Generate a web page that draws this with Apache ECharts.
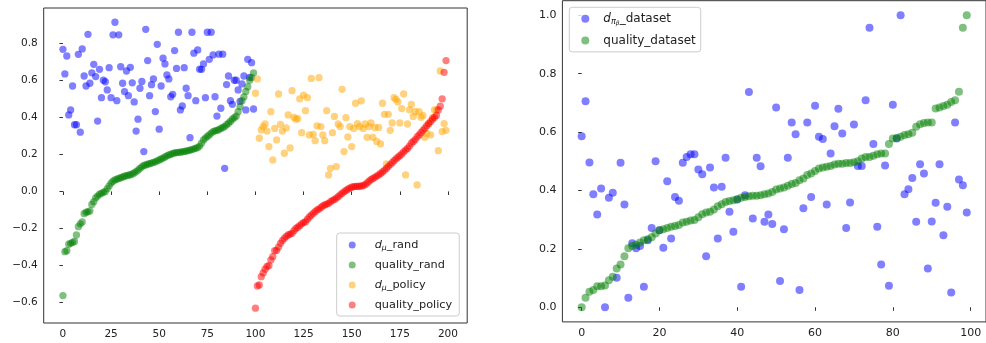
<!DOCTYPE html>
<html>
<head>
<meta charset="utf-8">
<title>quality scatter</title>
<script src="https://cdn.jsdelivr.net/npm/echarts@6/dist/echarts.min.js"></script>
<style>
  html, body { margin: 0; padding: 0; background: #fff; }
  #main { width: 986px; height: 343px; }
</style>
</head>
<body>
<div id="main"></div>
<script>
// tick labels
var leftXTicks = [0, 25, 50, 75, 100, 125, 150, 175, 200];
var leftYTicks = [-0.6, -0.4, -0.2, 0, 0.2, 0.4, 0.6, 0.8];
var rightXTicks = [0, 20, 40, 60, 80, 100];
var rightYTicks = [0, 0.2, 0.4, 0.6, 0.8, 1.0];

// left plot: x = 0..99 (rand), 100..199 (policy)
var dMuRand = [
  0.767, 0.634, 0.731, 0.413, 0.44, 0.569, 0.36, 0.36, 0.74, 0.32,
  0.769, 0.623, 0.569, 0.848, 0.584, 0.64, 0.686, 0.62, 0.38, 0.659,
  0.506, 0.60, 0.592, 0.548, 0.668, 0.506, 0.845, 0.913, 0.49, 0.845,
  0.673, 0.584, 0.539, 0.65, 0.517, 0.67, 0.586, 0.483, 0.326, 0.39,
  0.557, 0.594, 0.215, 0.875, 0.706, 0.517, 0.576, 0.607, 0.431, 0.794,
  0.336, 0.569, 0.719, 0.688, 0.629, 0.607, 0.511, 0.524, 0.76, 0.664,
  0.859, 0.44, 0.461, 0.668, 0.557, 0.517, 0.29, 0.859, 0.746, 0.49,
  0.764, 0.66, 0.659, 0.688, 0.506, 0.859, 0.713, 0.859, 0.737, 0.511,
  0.407, 0.741, 0.449, 0.741, 0.125, 0.577, 0.623, 0.49, 0.47, 0.60,
  0.60, 0.548, 0.486, 0.58, 0.623, 0.44, 0.713, 0.616, 0.695, 0.445
];
var qualityRand = [
  -0.562, -0.325, -0.32, -0.285, -0.28, -0.275, -0.27, -0.235, -0.19, -0.175,
  -0.165, -0.12, -0.112, -0.11, -0.105, -0.07, -0.055, -0.035, -0.025, -0.015,
  -0.01, -0.005, 0.0, 0.015, 0.03, 0.045, 0.055, 0.062, 0.066, 0.07,
  0.074, 0.078, 0.082, 0.085, 0.088, 0.09, 0.094, 0.1, 0.107, 0.115,
  0.125, 0.133, 0.14, 0.143, 0.147, 0.15, 0.153, 0.157, 0.16, 0.165,
  0.17, 0.175, 0.18, 0.186, 0.192, 0.197, 0.2, 0.205, 0.208, 0.21,
  0.211, 0.212, 0.214, 0.216, 0.218, 0.22, 0.223, 0.226, 0.23, 0.233,
  0.237, 0.245, 0.26, 0.278, 0.288, 0.297, 0.305, 0.315, 0.323, 0.327,
  0.33, 0.333, 0.34, 0.345, 0.35, 0.36, 0.368, 0.378, 0.39, 0.398,
  0.406, 0.43, 0.458, 0.49, 0.51, 0.54, 0.565, 0.6, 0.615, 0.64
];
var dMuPolicy = [
  0.53, 0.607, 0.287, 0.332, 0.35, 0.364, 0.326, 0.242, 0.43, 0.17,
  0.34, 0.278, 0.526, 0.362, 0.326, 0.206, 0.343, 0.413, 0.235, 0.544,
  0.4, 0.39, 0.393, 0.5, 0.317, 0.52, 0.436, 0.506, 0.305, 0.61,
  0.308, 0.274, 0.354, 0.614, 0.35, 0.305, 0.274, 0.436, 0.089, 0.125,
  0.317, 0.405, 0.134, 0.364, 0.35, 0.551, 0.215, 0.398, 0.294, 0.35,
  0.242, 0.34, 0.476, 0.366, 0.35, 0.489, 0.34, 0.364, 0.292, 0.35,
  0.37, 0.292, 0.345, 0.27, 0.345, 0.256, 0.476, 0.416, 0.148, 0.416,
  0.33, 0.37, 0.506, 0.497, 0.483, 0.37, 0.447, 0.526, 0.089, 0.364,
  0.441, 0.47, 0.405, 0.43, 0.035, 0.43, 0.4, 0.41, 0.292, 0.313,
  0.366, 0.305, 0.398, 0.44, 0.44, 0.22, 0.65, 0.323, 0.366, 0.33
];
var qualityPolicy = [
  -0.63, -0.51, -0.505, -0.46, -0.44, -0.42, -0.405, -0.4, -0.37, -0.352,
  -0.32, -0.318, -0.3, -0.28, -0.265, -0.253, -0.242, -0.235, -0.23, -0.226,
  -0.212, -0.2, -0.193, -0.185, -0.175, -0.168, -0.163, -0.15, -0.138, -0.128,
  -0.118, -0.109, -0.1, -0.095, -0.086, -0.078, -0.073, -0.068, -0.064, -0.055,
  -0.048, -0.044, -0.036, -0.028, -0.018, -0.01, -0.002, 0.005, 0.012, 0.018,
  0.023, 0.026, 0.027, 0.027, 0.028, 0.029, 0.032, 0.037, 0.046, 0.055,
  0.063, 0.07, 0.076, 0.083, 0.089, 0.097, 0.105, 0.114, 0.124, 0.134,
  0.145, 0.155, 0.166, 0.176, 0.185, 0.193, 0.202, 0.214, 0.223, 0.232,
  0.245, 0.26, 0.27, 0.28, 0.295, 0.305, 0.317, 0.33, 0.341, 0.355,
  0.366, 0.378, 0.39, 0.4, 0.41, 0.44, 0.46, 0.5, 0.643, 0.706
];

// right plot: x = 0..99
var dPiDataset = [
  0.586, 0.706, 0.496, 0.387, 0.318, 0.407, 0.0, 0.375, 0.392, 0.101,
  0.495, 0.352, 0.033, 0.219, 0.202, 0.21, 0.07, 0.23, 0.272, 0.5,
  0.264, 0.204, 0.432, 0.236, 0.378, 0.365, 0.495, 0.515, 0.524, 0.524,
  0.472, 0.456, 0.175, 0.479, 0.41, 0.236, 0.413, 0.512, 0.327, 0.259,
  0.369, 0.07, 0.384, 0.737, 0.304, 0.512, 0.483, 0.293, 0.318, 0.285,
  0.684, 0.09, 0.267, 0.512, 0.633, 0.593, 0.059, 0.339, 0.633, 0.378,
  0.69, 0.584, 0.576, 0.352, 0.527, 0.62, 0.68, 0.595, 0.272, 0.359,
  0.626, 0.484, 0.484, 0.709, 0.957, 0.559, 0.276, 0.147, 0.486, 0.074,
  0.694, 0.578, 1.0, 0.387, 0.404, 0.443, 0.293, 0.49, 0.458, 0.133,
  0.294, 0.358, 0.49, 0.247, 0.344, 0.051, 0.633, 0.438, 0.418, 0.325
];
var qualityDataset = [
  0.0, 0.033, 0.053, 0.059, 0.072, 0.072, 0.075, 0.093, 0.105, 0.133,
  0.147, 0.175, 0.202, 0.21, 0.214, 0.222, 0.23, 0.233, 0.24, 0.253,
  0.264, 0.267, 0.272, 0.276, 0.278, 0.282, 0.29, 0.293, 0.297, 0.299,
  0.308, 0.319, 0.325, 0.327, 0.335, 0.346, 0.353, 0.361, 0.364, 0.367,
  0.37, 0.375, 0.378, 0.38, 0.382, 0.382, 0.384, 0.387, 0.39, 0.395,
  0.403, 0.407, 0.41, 0.416, 0.422, 0.426, 0.435, 0.441, 0.453, 0.458,
  0.467, 0.475, 0.479, 0.481, 0.484, 0.489, 0.492, 0.492, 0.494, 0.494,
  0.497, 0.5, 0.51, 0.515, 0.515, 0.519, 0.524, 0.527, 0.527, 0.559,
  0.578, 0.58, 0.584, 0.59, 0.593, 0.598, 0.618, 0.627, 0.631, 0.633,
  0.633, 0.681, 0.684, 0.689, 0.694, 0.703, 0.709, 0.738, 0.957, 1.0
];

var FONT = 'DejaVu Sans';

function toPoints(vals, start) {
  var res = [];
  for (var i = 0; i < vals.length; i++) {
    res.push([start + i, vals[i]]);
  }
  return res;
}

function fmtDec(v) {
  return Number(v).toFixed(1).replace('-', '\u2212');
}

function makeAxis(grid, min, max, ticks, size, fmt) {
  return {
    type: 'value',
    gridIndex: grid,
    min: min,
    max: max,
    splitLine: { show: false },
    axisLine: { show: false },
    axisTick: {
      show: true, inside: false, length: 3.5,
      lineStyle: { color: '#333', width: 1 },
      customValues: ticks
    },
    axisLabel: {
      show: true, margin: 6, color: '#222', fontFamily: FONT, fontSize: size,
      customValues: ticks,
      formatter: fmt
    }
  };
}

function scatter(name, vals, start, color, ax, size) {
  return {
    name: name,
    type: 'scatter',
    xAxisIndex: ax,
    yAxisIndex: ax,
    data: toPoints(vals, start),
    symbol: 'circle',
    symbolSize: size,
    itemStyle: { color: color, opacity: 0.5 },
    emphasis: { disabled: true }
  };
}

// legend labels with math-style d subscripts, plus a spacer after the marker
function legendName(name) {
  var gap = '{g|}';
  if (name.indexOf('d_mu') === 0) {
    return gap + '{i|d}{s|\u03bc}' + name.slice(4);
  }
  if (name.indexOf('d_pi') === 0) {
    return gap + '{i|d}{s|\u03c0}{ss|\u03b2}' + name.slice(4);
  }
  return gap + name;
}

function legendRich(size, gap) {
  return {
    g: { width: gap },
    i: { fontStyle: 'italic', fontFamily: FONT, fontSize: size, color: '#222' },
    s: { fontStyle: 'italic', fontFamily: FONT, fontSize: size * 0.68, color: '#222', verticalAlign: 'bottom' },
    ss: { fontStyle: 'italic', fontFamily: FONT, fontSize: size * 0.5, color: '#222', verticalAlign: 'bottom' }
  };
}

function drawChart() {
  var myChart = echarts.init(document.getElementById('main'), null, { renderer: 'canvas' });

  var option = {
    animation: false,
    backgroundColor: '#fff',
    grid: [
      { left: 43.7, top: 8, width: 423.5, height: 315, show: true, borderColor: '#333', borderWidth: 1, backgroundColor: 'transparent' },
      { left: 562.4, top: 0.7, width: 431.8, height: 321.2, show: true, borderColor: '#333', borderWidth: 1, backgroundColor: 'transparent' }
    ],
    xAxis: [
      makeAxis(0, -10, 210, leftXTicks, 10.5, function (v) { return String(v); }),
      makeAxis(1, -4.95, 103.95, rightXTicks, 11, function (v) { return String(v); })
    ],
    yAxis: [
      makeAxis(0, -0.71, 0.99, leftYTicks, 10.5, fmtDec),
      makeAxis(1, -0.05, 1.05, rightYTicks, 11, fmtDec)
    ],
    legend: [
      {
        data: ['d_mu_rand', 'quality_rand', 'd_mu_policy', 'quality_policy'],
        orient: 'vertical',
        left: 336.7, top: 233,
        icon: 'circle',
        itemWidth: 7, itemHeight: 7,
        itemGap: 6,
        itemStyle: { opacity: 0.5 },
        padding: [5, 7, 4, 12],
        backgroundColor: 'rgba(255,255,255,0.8)',
        borderColor: '#ccc', borderWidth: 1, borderRadius: 3,
        formatter: legendName,
        textStyle: { fontFamily: FONT, fontSize: 11.3, color: '#222', lineHeight: 14, rich: legendRich(11.3, 14) }
      },
      {
        data: ['d_pi_dataset', 'quality_dataset'],
        orient: 'vertical',
        left: 569.3, top: 7.3,
        icon: 'circle',
        itemWidth: 8, itemHeight: 8,
        itemGap: 6.6,
        itemStyle: { opacity: 0.5 },
        padding: [4, 5, 4, 12],
        backgroundColor: 'rgba(255,255,255,0.8)',
        borderColor: '#ccc', borderWidth: 1, borderRadius: 3,
        formatter: legendName,
        textStyle: { fontFamily: FONT, fontSize: 12, color: '#222', lineHeight: 15, rich: legendRich(12, 9) }
      }
    ],
    series: [
      scatter('d_mu_rand', dMuRand, 0, '#0000ff', 0, 7.3),
      scatter('quality_rand', qualityRand, 0, '#008000', 0, 7.3),
      scatter('d_mu_policy', dMuPolicy, 100, '#ffa500', 0, 7.3),
      scatter('quality_policy', qualityPolicy, 100, '#ff0000', 0, 7.3),
      scatter('d_pi_dataset', dPiDataset, 0, '#0000ff', 1, 8),
      scatter('quality_dataset', qualityDataset, 0, '#008000', 1, 8)
    ]
  };

  myChart.setOption(option);
  window.addEventListener('resize', function () {
    myChart.resize();
  });
}

drawChart();
</script>
</body>
</html>
